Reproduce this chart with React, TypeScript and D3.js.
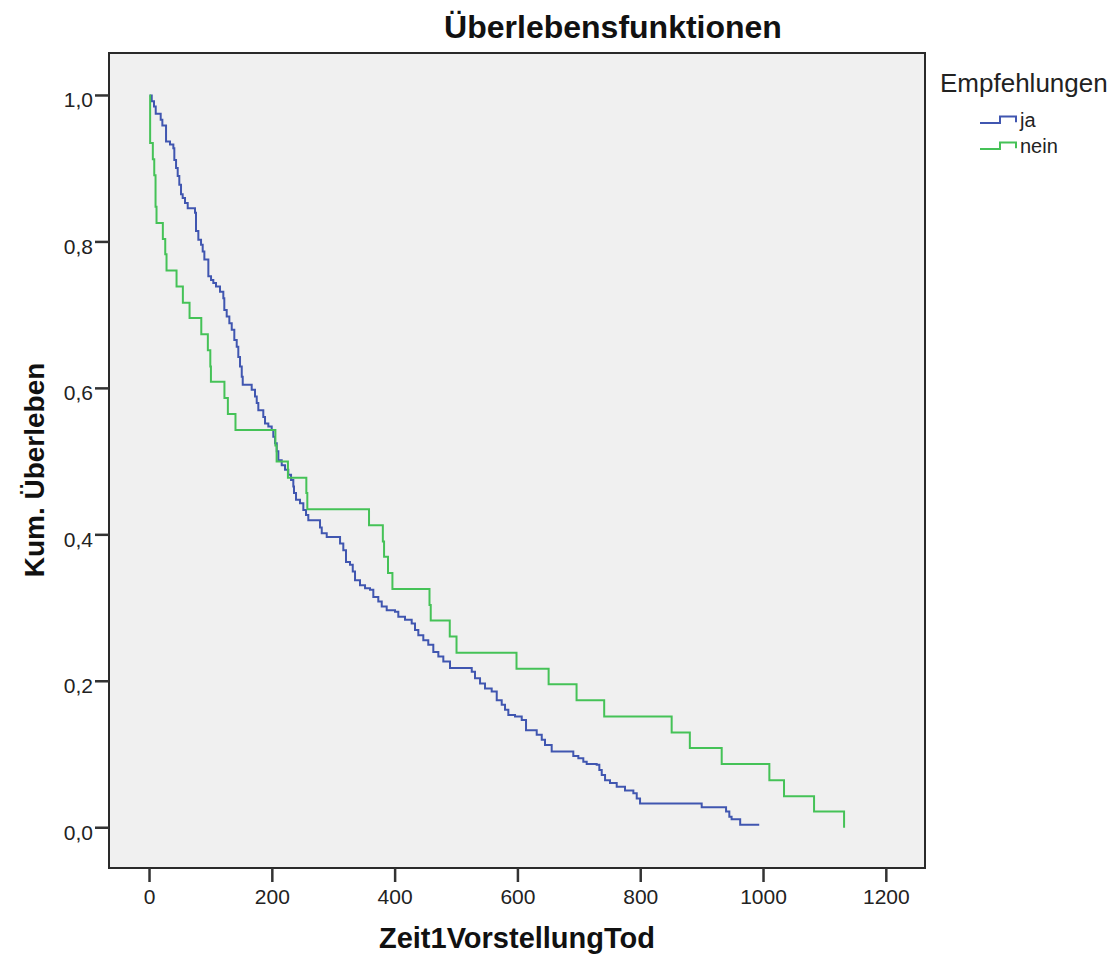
import React from "react";
import * as d3 from "d3";

// Kaplan-Meier Stufen
const jaZeit = [
  0, 3.6, 7.3, 10.1, 18.2, 20.9, 26.9, 33.4, 38.8, 40.4, 43.2, 45.9, 48.5, 51.3, 54, 57.8, 62.2,
  74.1, 75.7, 79.5, 83.9, 86.6, 89.3, 95.8, 100.2, 103.9, 108.3, 114.8, 120.2, 121.8, 125.7, 130,
  133.9, 138.1, 142, 144.6, 147.4, 150.2, 151.8, 166.4, 171.8, 174.6, 177.2, 185.3, 188.1, 193.5,
  199, 201.6, 204.4, 207.2, 209.8, 215.3, 220.7, 226, 230.5, 234.2, 235.3, 238.6, 245.1, 250.5,
  254.9, 258.6, 277.7, 280.5, 288.6, 310.3, 315.6, 320, 326.5, 331, 334.7, 342.8, 351, 359.1,
  364.5, 372.6, 378.2, 386.3, 399.8, 405.2, 416.1, 427, 432.4, 437.8, 445.9, 454, 462.2, 470.4,
  478.5, 489.4, 524.8, 530.1, 538.3, 546.4, 557.3, 565.5, 573.6, 579, 584.4, 595.3, 606.2, 613.2,
  630.6, 638.8, 644.1, 655, 690.2, 698.4, 706.5, 712, 728.3, 732.6, 736.5, 741.9, 750, 760.9,
  774.4, 788, 793.5, 798.9, 899.3, 939, 944.3, 948, 962, 993,
];
const jaUeberleben = [
  1, 0.992, 0.985, 0.975, 0.967, 0.959, 0.937, 0.933, 0.928, 0.912, 0.901, 0.89, 0.878, 0.865,
  0.86, 0.853, 0.846, 0.84, 0.815, 0.803, 0.796, 0.787, 0.776, 0.753, 0.748, 0.744, 0.739, 0.732,
  0.723, 0.707, 0.698, 0.689, 0.68, 0.666, 0.657, 0.643, 0.63, 0.616, 0.605, 0.598, 0.589, 0.58,
  0.57, 0.561, 0.552, 0.548, 0.543, 0.534, 0.525, 0.514, 0.502, 0.495, 0.489, 0.482, 0.475, 0.466,
  0.457, 0.448, 0.443, 0.434, 0.427, 0.42, 0.41, 0.402, 0.397, 0.388, 0.379, 0.363, 0.359, 0.35,
  0.338, 0.331, 0.327, 0.325, 0.315, 0.309, 0.302, 0.297, 0.295, 0.288, 0.284, 0.279, 0.27, 0.263,
  0.256, 0.25, 0.24, 0.234, 0.227, 0.218, 0.213, 0.204, 0.197, 0.19, 0.186, 0.174, 0.168, 0.161,
  0.154, 0.152, 0.147, 0.133, 0.127, 0.12, 0.113, 0.104, 0.098, 0.095, 0.09, 0.087, 0.086, 0.079,
  0.072, 0.065, 0.061, 0.056, 0.051, 0.047, 0.04, 0.033, 0.028, 0.022, 0.015, 0.0115, 0.004, 0.004,
];

const neinZeit = [
  0, 1, 5.4, 7.7, 9.8, 11.4, 21.7, 25.6, 27.7, 44, 54.3, 65.2, 84.3, 95, 99, 100, 122, 127.6, 140,
  205, 207, 225.4, 255.4, 257, 357.5, 380, 382, 388.4, 395.6, 456, 458, 489, 500, 597.7, 650,
  695.5, 740.5, 850.4, 880, 931.9, 1009.5, 1033.4, 1082.3, 1131.2,
];
const neinUeberleben = [
  1, 0.935, 0.913, 0.891, 0.848, 0.826, 0.804, 0.783, 0.761, 0.739, 0.717, 0.696, 0.674, 0.652,
  0.63, 0.609, 0.587, 0.565, 0.543, 0.522, 0.5, 0.478, 0.457, 0.435, 0.413, 0.391, 0.37, 0.348,
  0.326, 0.304, 0.283, 0.261, 0.239, 0.217, 0.196, 0.174, 0.152, 0.13, 0.109, 0.087, 0.065, 0.043,
  0.022, 0,
];

const xTicks = [0, 200, 400, 600, 800, 1000, 1200];
const yTicks = [0, 0.2, 0.4, 0.6, 0.8, 1.0];
const yTickLabels = ["0,0", "0,2", "0,4", "0,6", "0,8", "1,0"];
const gruppen = ["ja", "nein"];
const farben = ["#4056b0", "#45c257"];

const font = "'Liberation Sans', Arial, sans-serif";

export default function App() {
  const svgWidth = 1110;
  const svgHeight = 957;
  const frame = { left: 109, right: 925, top: 53, bottom: 868 };

  const scaleZeit = d3.scaleLinear().domain([-66, 1263]).range([frame.left, frame.right]);
  const scaleUeberleben = d3
    .scaleLinear()
    .domain([-0.055, 1.058])
    .range([frame.bottom, frame.top]);

  const line = d3
    .line<[number, number]>()
    .x((d) => scaleZeit(d[0]))
    .y((d) => scaleUeberleben(d[1]))
    .curve(d3.curveStepAfter);

  const serien = [
    d3.zip(jaZeit, jaUeberleben) as [number, number][],
    d3.zip(neinZeit, neinUeberleben) as [number, number][],
  ];

  return (
    <div style={{ position: "absolute", left: 0, top: 0 }}>
      <svg width={svgWidth} height={svgHeight} style={{ display: "block", background: "#fff" }}>
        <text
          x={613}
          y={38}
          textAnchor="middle"
          fontFamily={font}
          fontWeight="bold"
          fontSize={32}
          fill="#111"
        >
          Überlebensfunktionen
        </text>

        <rect
          x={frame.left}
          y={frame.top}
          width={frame.right - frame.left}
          height={frame.bottom - frame.top}
          fill="#f0f0f0"
        />

        {serien.map((s, i) => (
          <path
            key={gruppen[i]}
            d={line(s) || ""}
            fill="none"
            stroke={farben[i]}
            strokeWidth={2}
          />
        ))}

        <rect
          x={frame.left}
          y={frame.top}
          width={frame.right - frame.left}
          height={frame.bottom - frame.top}
          fill="none"
          stroke="#2a2a2a"
          strokeWidth={2}
        />

        {yTicks.map((t, i) => (
          <g key={t} transform={`translate(0, ${scaleUeberleben(t)})`}>
            <line x1={frame.left - 14} x2={frame.left} stroke="#333" strokeWidth={2.5} />
            <text
              x={frame.left - 16}
              y={12}
              textAnchor="end"
              fontFamily={font}
              fontSize={21}
              fill="#222"
            >
              {yTickLabels[i]}
            </text>
          </g>
        ))}

        {xTicks.map((t) => (
          <g key={t} transform={`translate(${scaleZeit(t)}, ${frame.bottom})`}>
            <line y1={0} y2={14} stroke="#333" strokeWidth={2.5} />
            <text
              y={36}
              textAnchor="middle"
              fontFamily={font}
              fontSize={21}
              fill="#222"
            >
              {t}
            </text>
          </g>
        ))}

        <text
          x={(frame.left + frame.right) / 2}
          y={948}
          textAnchor="middle"
          fontFamily={font}
          fontWeight="bold"
          fontSize={29}
          fill="#111"
        >
          Zeit1VorstellungTod
        </text>
        <text
          transform={`translate(44, 470) rotate(-90)`}
          textAnchor="middle"
          fontFamily={font}
          fontWeight="bold"
          fontSize={28}
          fill="#111"
        >
          Kum. Überleben
        </text>

        <g transform="translate(940, 0)">
          <text x={0} y={92} fontFamily={font} fontSize={26} fill="#222">
            Empfehlungen
          </text>
          {gruppen.map((g, i) => (
            <g key={g} transform={`translate(40, ${123 + i * 26})`}>
              <path
                d="M0,0 H20 V-6.5 H36 V-0.8"
                fill="none"
                stroke={farben[i]}
                strokeWidth={2}
              />
              <text x={40} y={4} fontFamily={font} fontSize={20} fill="#222">
                {g}
              </text>
            </g>
          ))}
        </g>
      </svg>
    </div>
  );
}
